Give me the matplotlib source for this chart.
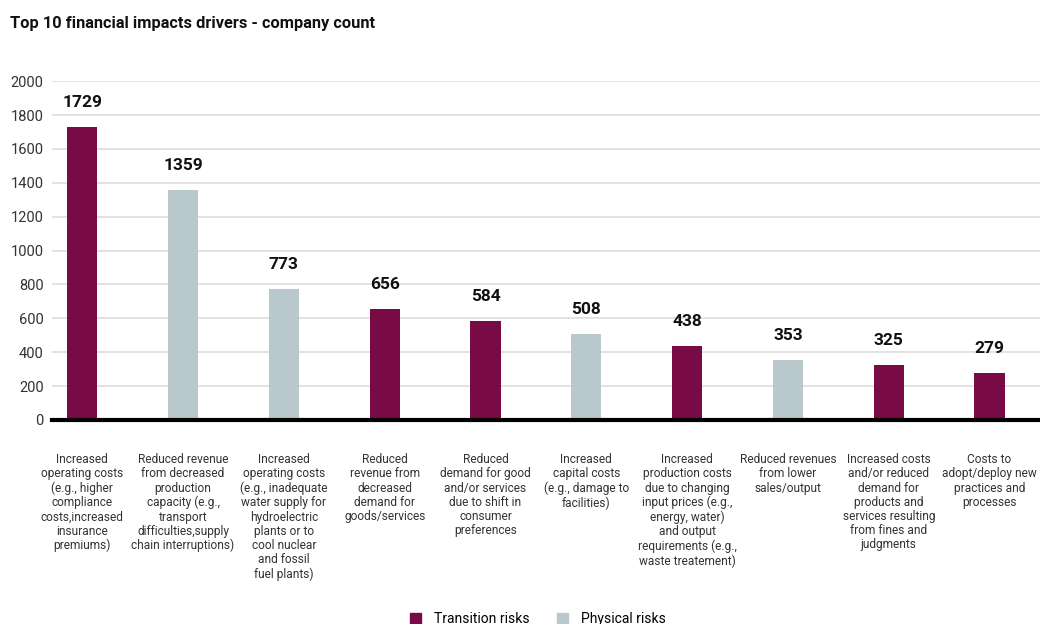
import matplotlib
matplotlib.use("Agg")
import matplotlib.pyplot as plt
from matplotlib.patches import Patch

plt.rcParams['font.family'] = ['Roboto', 'DejaVu Sans']

categories = [
    "Increased\noperating costs\n(e.g., higher\ncompliance\ncosts,increased\ninsurance\npremiums)",
    "Reduced revenue\nfrom decreased\nproduction\ncapacity (e.g.,\ntransport\ndifficulties,supply\nchain interruptions)",
    "Increased\noperating costs\n(e.g., inadequate\nwater supply for\nhydroelectric\nplants or to\ncool nuclear\nand fossil\nfuel plants)",
    "Reduced\nrevenue from\ndecreased\ndemand for\ngoods/services",
    "Reduced\ndemand for good\nand/or services\ndue to shift in\nconsumer\npreferences",
    "Increased\ncapital costs\n(e.g., damage to\nfacilities)",
    "Increased\nproduction costs\ndue to changing\ninput prices (e.g.,\nenergy, water)\nand output\nrequirements (e.g.,\nwaste treatement)",
    "Reduced revenues\nfrom lower\nsales/output",
    "Increased costs\nand/or reduced\ndemand for\nproducts and\nservices resulting\nfrom fines and\njudgments",
    "Costs to\nadopt/deploy new\npractices and\nprocesses",
]
values = [1729, 1359, 773, 656, 584, 508, 438, 353, 325, 279]
risk_type = ["Transition", "Physical", "Physical", "Transition", "Transition",
             "Physical", "Transition", "Physical", "Transition", "Transition"]
yticks = [0, 200, 400, 600, 800, 1000, 1200, 1400, 1600, 1800, 2000]

colors = {"Transition": "#780a46", "Physical": "#b8c8cc"}

fig = plt.figure(figsize=(10.4, 6.24), dpi=100)
ax = fig.add_axes([0.05, 0.327, 0.95, 0.543])

x = list(range(len(values)))
ax.bar(x, values, width=0.3, color=[colors[t] for t in risk_type], zorder=3)

for xi, v in zip(x, values):
    ax.text(xi, v + 100, str(v), ha='center', va='bottom', fontsize=12.5,
            fontweight='bold', color='#111111')

ax.set_xlim(-0.3, 9.5)
ax.set_ylim(0, 2000)
ax.set_yticks(yticks)
ax.set_yticklabels([str(t) for t in yticks], fontsize=10.5, color='#333333')
ax.tick_params(axis='y', length=0, pad=6)
ax.tick_params(axis='x', length=0, pad=24)
ax.set_xticks(x)
ax.set_xticklabels(categories, fontsize=8.6, color='#333333', linespacing=1.12, va='top')
ax.grid(axis='y', color='#dddddd', linewidth=1.2, zorder=0)
for s in ['top', 'right', 'left']:
    ax.spines[s].set_visible(False)
ax.spines['bottom'].set_linewidth(3)
ax.spines['bottom'].set_color('black')
ax.spines['bottom'].set_zorder(4)

fig.text(0.01, 0.963, "Top 10 financial impacts drivers - company count",
         fontsize=11.8, fontweight='bold', color='#111111', va='center')

handles = [Patch(color=colors["Transition"], label="Transition risks"),
           Patch(color=colors["Physical"], label="Physical risks")]
fig.legend(handles=handles, loc='center', bbox_to_anchor=(0.517, 0.008), ncol=2,
           frameon=False, fontsize=10, handlelength=0.8, handleheight=0.8,
           columnspacing=2.0, handletextpad=0.9)

fig.savefig("out.png", dpi=100)
